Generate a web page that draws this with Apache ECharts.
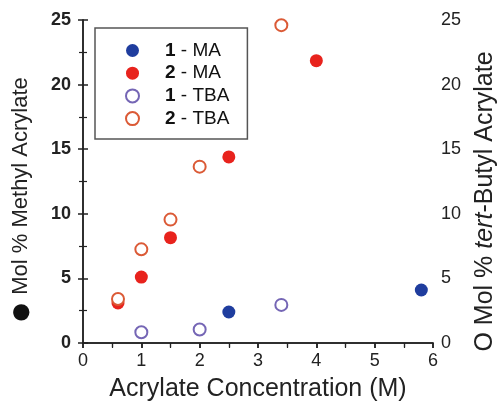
<!DOCTYPE html>
<html><head><meta charset="utf-8">
<script src="https://cdn.jsdelivr.net/npm/echarts@6/dist/echarts.min.js"></script>
<style>html,body{margin:0;padding:0;background:#fff}#c{width:497px;height:406px}</style>
</head><body><div id="c"></div>
<script>
const xTicks = [0, 1, 2, 3, 4, 5, 6];
const yTicks = [0, 5, 10, 15, 20, 25];
const ma1 = [[2.5, 2.4], [5.8, 4.1]];
const ma2 = [[0.6, 3.1], [1.0, 5.1], [1.5, 8.15], [2.5, 14.4], [4.0, 21.85]];
const tba1 = [[1.0, 0.83], [2.0, 1.05], [3.4, 2.95]];
const tba2 = [[0.6, 3.4], [1.0, 7.25], [1.5, 9.55], [2.0, 13.65], [3.4, 24.6]];
const seriesNames = ['1 - MA', '2 - MA', '1 - TBA', '2 - TBA'];

const F = '"Liberation Sans", Arial, sans-serif';
const axisLine = {show: true, lineStyle: {color: '#222', width: 1.5}};
const chart = echarts.init(document.getElementById('c'), null, {renderer: 'canvas'});
const yBase = {
  type: 'value', min: yTicks[0], max: yTicks[yTicks.length - 1], interval: 5,
  axisLine: axisLine, splitLine: {show: false},
  axisTick: {show: true, length: 5, lineStyle: {color: '#222', width: 1.5}},
  minorTick: {show: true, splitNumber: 2, length: 4, lineStyle: {color: '#222', width: 1.2}},
  nameLocation: 'middle', nameRotate: 90
};
chart.setOption({
  animation: false,
  backgroundColor: '#fff',
  grid: {left: 83, right: 64, top: 20, bottom: 63, outerBoundsMode: 'none', containLabel: false},
  xAxis: [{
    type: 'value', min: xTicks[0], max: xTicks[xTicks.length - 1], interval: 1, position: 'bottom',
    axisLine: axisLine, splitLine: {show: false},
    axisTick: {show: true, length: 5, lineStyle: {color: '#222', width: 1.5}},
    minorTick: {show: true, splitNumber: 2, length: 4, lineStyle: {color: '#222', width: 1.2}},
    axisLabel: {fontFamily: F, fontSize: 18, color: '#222', margin: 9},
    name: 'Acrylate Concentration (M)', nameLocation: 'middle', nameGap: 34,
    nameTextStyle: {fontFamily: F, fontSize: 25, color: '#222'}
  }, {
    type: 'value', min: 0, max: 6, interval: 1, position: 'top',
    axisLine: axisLine, splitLine: {show: false}, axisLabel: {show: false},
    axisTick: {show: true, inside: true, length: 5, lineStyle: {color: '#222', width: 1.5}},
    minorTick: {show: true, splitNumber: 2, length: 5, lineStyle: {color: '#222', width: 1.2}}
  }],
  yAxis: [Object.assign({}, yBase, {
    position: 'left',
    axisLabel: {fontFamily: F, fontSize: 18, color: '#222', margin: 12, fontWeight: 'bold'},
    name: '{d|●}{n| Mol % Methyl Acrylate}', nameGap: 38,
    nameTextStyle: {fontFamily: F, fontSize: 22, color: '#222',
      rich: {d: {fontFamily: F, fontSize: 38, color: '#111'},
             n: {fontFamily: F, fontSize: 22, color: '#222', padding: [0, 38, 0, 0]}}}
  }), Object.assign({}, yBase, {
    position: 'right',
    axisLabel: {fontFamily: F, fontSize: 18, color: '#222', margin: 8},
    name: '{n|O Mol % }{i|tert}{e|-Butyl Acrylate}', nameGap: 40,
    nameTextStyle: {fontFamily: F, fontSize: 25, color: '#222',
      rich: {n: {fontFamily: F, fontSize: 25, color: '#222'},
             i: {fontFamily: F, fontSize: 25, color: '#222', fontStyle: 'italic'},
             e: {fontFamily: F, fontSize: 25, color: '#222', padding: [0, 40, 0, 0]}}}
  })],
  legend: {
    orient: 'vertical', left: 95, top: 28,
    data: seriesNames,
    itemWidth: 13, itemHeight: 13, itemGap: 3.7,
    padding: [13, 18, 11, 30],
    borderColor: '#555', borderWidth: 1.5, backgroundColor: '#fff',
    formatter: function (n) { const p = n.split(' - '); return '{b|' + p[0] + '}{r| - ' + p[1] + '}'; },
    textStyle: {fontFamily: F, fontSize: 19, color: '#111', padding: [0, 0, 0, 21],
      rich: {b: {fontFamily: F, fontSize: 19, fontWeight: 'bold', color: '#111'},
             r: {fontFamily: F, fontSize: 19, color: '#111'}}}
  },
  series: [
    {name: seriesNames[0], type: 'scatter', data: ma1, symbol: 'circle', symbolSize: 13,
     itemStyle: {color: '#1f3d9e', opacity: 1}},
    {name: seriesNames[1], type: 'scatter', data: ma2, symbol: 'circle', symbolSize: 13,
     itemStyle: {color: '#e8231d', opacity: 1}},
    {name: seriesNames[2], type: 'scatter', data: tba1, symbol: 'circle', symbolSize: 12,
     itemStyle: {color: '#fff', borderColor: '#7566b5', borderWidth: 2, opacity: 1}},
    {name: seriesNames[3], type: 'scatter', data: tba2, symbol: 'circle', symbolSize: 12,
     itemStyle: {color: '#fff', borderColor: '#db5a36', borderWidth: 2, opacity: 1}}
  ]
});
</script></body></html>
